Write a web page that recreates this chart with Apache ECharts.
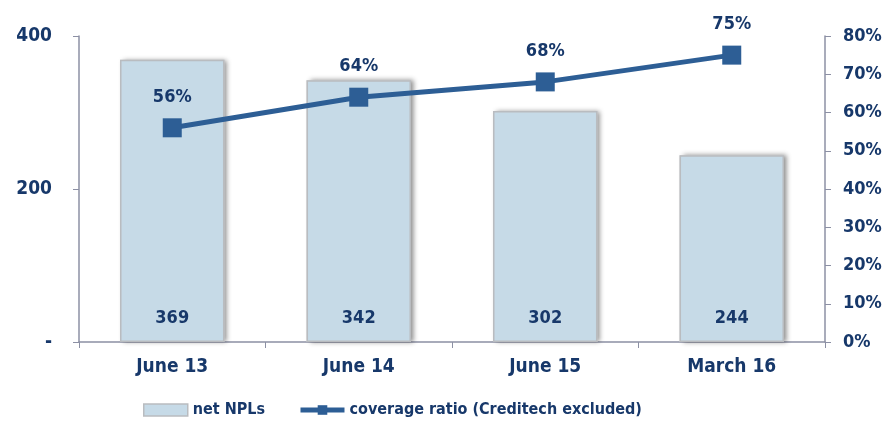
<!DOCTYPE html>
<html>
<head>
<meta charset="utf-8">
<script src="https://cdn.jsdelivr.net/npm/echarts@6/dist/echarts.min.js"></script>
<style>
  html, body { margin: 0; padding: 0; background: #fff; }
  #chart { width: 887px; height: 429px; }
</style>
</head>
<body>
<div id="chart"></div>
<script>
// Net NPLs (left axis) and coverage ratio (right axis) by reporting date
const categories = ['June 13', 'June 14', 'June 15', 'March 16'];
const netNPLs = [369, 342, 302, 244];
const coverageRatio = [56, 64, 68, 75];

const navy = '#17386a';
const lineBlue = '#2d5e95';
const axisGrey = '#8c90a4';
const barFill = '#c6dae7';
const barBorder = '#b9bcc0';
const font = 'DejaVu Sans Condensed';

const chart = echarts.init(document.getElementById('chart'));
chart.setOption({
  animation: false,
  textStyle: { fontFamily: font },
  grid: { left: 79, right: 62, top: 36, bottom: 87 },
  legend: {
    bottom: 6,
    left: 138,
    itemGap: 33,
    itemWidth: 44,
    itemHeight: 12,
    textStyle: { color: navy, fontWeight: 'bold', fontSize: 16, fontFamily: font },
    data: [
      { name: 'net NPLs', icon: 'rect', itemStyle: { color: barFill, borderColor: barBorder, borderWidth: 1.5, shadowBlur: 0, shadowOffsetX: 0, shadowOffsetY: 0 } },
      { name: 'coverage ratio (Creditech excluded)', lineStyle: { width: 5, color: lineBlue } }
    ]
  },
  xAxis: {
    type: 'category',
    data: categories,
    axisLine: { lineStyle: { color: axisGrey, width: 1.5 } },
    axisTick: { show: true, alignWithLabel: false, length: 6, lineStyle: { color: axisGrey } },
    axisLabel: { color: navy, fontWeight: 'bold', fontSize: 19, margin: 16 }
  },
  yAxis: [
    {
      type: 'value',
      min: 0, max: 400, interval: 200,
      position: 'left',
      axisLine: { show: true, lineStyle: { color: axisGrey, width: 1.5 } },
      axisTick: { show: true, length: 6, lineStyle: { color: axisGrey } },
      splitLine: { show: false },
      axisLabel: {
        color: navy, fontWeight: 'bold', fontSize: 19, margin: 27,
        formatter: v => (v === 0 ? '-' : String(v))
      }
    },
    {
      type: 'value',
      min: 0, max: 80, interval: 10,
      position: 'right',
      axisLine: { show: true, lineStyle: { color: axisGrey, width: 1.5 } },
      axisTick: { show: true, length: 6, lineStyle: { color: axisGrey } },
      splitLine: { show: false },
      axisLabel: { color: navy, fontWeight: 'bold', fontSize: 18, margin: 18, formatter: '{value}%' }
    }
  ],
  series: [
    {
      // soft drop shadow sitting behind the bars
      name: 'net NPLs',
      type: 'bar',
      yAxisIndex: 0,
      data: netNPLs,
      barWidth: '56%',
      silent: true,
      z: 1,
      itemStyle: {
        color: '#d0d0d0',
        shadowColor: 'rgba(0,0,0,0.45)',
        shadowBlur: 5,
        shadowOffsetX: 3,
        shadowOffsetY: 0
      }
    },
    {
      name: 'net NPLs',
      type: 'bar',
      yAxisIndex: 0,
      data: netNPLs,
      barWidth: '56%',
      barGap: '-100%',
      z: 2,
      itemStyle: {
        color: barFill,
        borderColor: barBorder,
        borderWidth: 1.5
      },
      label: {
        show: true,
        position: 'insideBottom',
        distance: 15,
        color: navy,
        fontWeight: 'bold',
        fontSize: 18
      }
    },
    {
      name: 'coverage ratio (Creditech excluded)',
      type: 'line',
      yAxisIndex: 1,
      z: 3,
      data: coverageRatio,
      symbol: 'rect',
      symbolSize: 19,
      lineStyle: { color: lineBlue, width: 5 },
      itemStyle: { color: lineBlue },
      label: {
        show: true,
        position: 'top',
        distance: 12,
        color: navy,
        fontWeight: 'bold',
        fontSize: 18,
        formatter: '{c}%'
      }
    }
  ]
});
</script>
</body>
</html>
